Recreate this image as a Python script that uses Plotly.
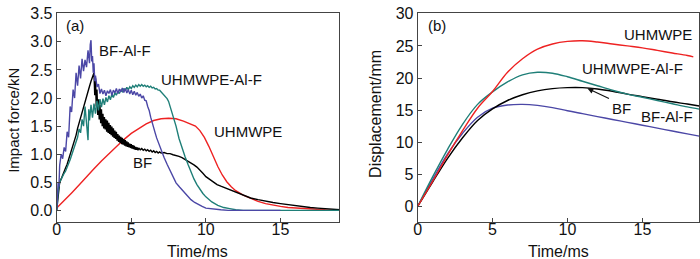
import plotly.graph_objects as go

# ---------------- Panel (a): impact force ----------------
bfal_t = [0.0, 0.05, 0.1, 0.15, 0.2, 0.3, 0.4, 0.5, 0.6, 0.7, 0.8, 0.9, 1.0, 1.1, 1.2, 1.3, 1.4, 1.5,
          1.6, 1.7, 1.8, 1.9, 2.0, 2.1, 2.2, 2.25, 2.3, 2.35, 2.4, 2.45, 2.5, 2.55, 2.6, 2.7, 2.8, 2.9,
          3.0, 3.1, 3.2, 3.3, 3.4, 3.5, 3.6, 3.7, 3.8, 3.9, 4.0, 4.1, 4.2, 4.3, 4.4, 4.5, 4.6, 4.7, 4.8,
          4.9, 5.0, 5.1, 5.2, 5.3, 5.4, 5.5, 5.6, 5.7, 5.8, 5.9, 6.0, 6.1, 6.2, 6.3, 6.4, 6.5, 6.6, 6.7,
          6.8, 6.9, 7.0, 7.2, 7.4, 7.6, 7.8, 8.0, 8.25, 8.5, 8.75, 9.0, 9.25, 9.5, 9.75, 10.0, 10.5,
          11.0, 11.5, 12.0, 15.0, 19.0]
bfal_f = [0.02, 0.35, 0.50, 0.42, 0.80, 1.00, 0.92, 1.12, 1.05, 1.40, 1.30, 1.85, 1.75, 2.15, 2.00,
          2.45, 2.22, 2.58, 2.35, 2.70, 2.48, 2.68, 2.55, 2.85, 2.62, 2.95, 3.03, 2.65, 2.75, 2.45, 2.62,
          2.30, 2.40, 2.20, 2.25, 2.08, 2.16, 2.07, 2.14, 2.04, 2.13, 2.08, 2.15, 2.05, 2.14, 2.09, 2.17,
          2.08, 2.16, 2.11, 2.18, 2.10, 2.17, 2.09, 2.15, 2.07, 2.14, 2.06, 2.12, 2.05, 2.10, 2.03, 2.07,
          2.00, 2.04, 1.96, 1.95, 1.85, 1.78, 1.66, 1.58, 1.48, 1.38, 1.29, 1.22, 1.16, 1.06, 0.94, 0.82,
          0.70, 0.60, 0.49, 0.41, 0.33, 0.25, 0.19, 0.14, 0.10, 0.07, 0.04, 0.02, 0.01, 0.0, 0.0, 0.0]

uhal_t = [0.0, 0.1, 0.2, 0.3, 0.4, 0.5, 0.6, 0.7, 0.8, 0.9, 1.0, 1.1, 1.2, 1.3, 1.4, 1.5, 1.6, 1.7, 1.8,
          1.9, 2.0, 2.1, 2.15, 2.2, 2.3, 2.4, 2.5, 2.6, 2.7, 2.8, 2.9, 3.0, 3.1, 3.2, 3.3, 3.4, 3.5, 3.6,
          3.7, 3.8, 3.9, 4.0, 4.1, 4.2, 4.3, 4.4, 4.5, 4.6, 4.7, 4.8, 4.9, 5.0, 5.1, 5.2, 5.3, 5.4, 5.5,
          5.6, 5.7, 5.8, 5.9, 6.0, 6.1, 6.2, 6.3, 6.4, 6.5, 6.6, 6.7, 6.8, 6.9, 7.0, 7.1, 7.2, 7.3, 7.4,
          7.5, 7.6, 7.7, 7.8, 7.9, 8.0, 8.2, 8.4, 8.6, 8.8, 9.0, 9.2, 9.4, 9.6, 9.8, 10.0, 10.4, 10.8,
          11.2, 11.6, 12.0, 12.5, 19.0]
uhal_f = [0.0, 0.35, 0.50, 0.56, 0.62, 0.66, 0.70, 0.76, 0.84, 0.90, 0.98, 1.06, 1.12, 1.22, 1.30, 1.45,
          1.38, 1.62, 1.50, 1.85, 1.55, 1.25, 1.80, 1.60, 1.88, 1.65, 1.90, 1.72, 1.95, 1.78, 1.98, 1.84,
          1.99, 1.88, 2.01, 1.93, 2.04, 1.97, 2.07, 2.01, 2.09, 2.05, 2.12, 2.08, 2.14, 2.11, 2.17, 2.13,
          2.19, 2.15, 2.20, 2.17, 2.22, 2.19, 2.23, 2.20, 2.24, 2.21, 2.24, 2.21, 2.23, 2.20, 2.22, 2.19,
          2.21, 2.18, 2.19, 2.16, 2.17, 2.14, 2.14, 2.11, 2.10, 2.07, 2.04, 1.99, 1.94, 1.86, 1.77, 1.68,
          1.59, 1.50, 1.28, 1.10, 0.96, 0.82, 0.68, 0.56, 0.46, 0.37, 0.30, 0.24, 0.15, 0.09, 0.05, 0.03,
          0.01, 0.0, 0.0]

bf_t = [0.0, 0.05, 0.1, 0.15, 0.2, 0.3, 0.4, 0.5, 0.6, 0.7, 0.8, 0.9, 1.0, 1.1, 1.2, 1.3, 1.4, 1.5, 1.6,
        1.7, 1.8, 1.9, 2.0, 2.1, 2.2, 2.3, 2.4, 2.45,
        2.50, 2.55, 2.60, 2.65, 2.70, 2.75, 2.80, 2.85, 2.90, 2.95, 3.00, 3.05, 3.10, 3.15, 3.20, 3.25,
        3.30, 3.35, 3.40, 3.45, 3.50, 3.55, 3.60, 3.65, 3.70, 3.75, 3.80, 3.85, 3.90, 3.95, 4.00, 4.05,
        4.10, 4.15, 4.20, 4.25, 4.30, 4.35, 4.40, 4.45, 4.50, 4.55, 4.60, 4.65, 4.70, 4.75, 4.80, 4.85,
        4.90, 4.95, 5.00, 5.05, 5.10, 5.15, 5.20, 5.25, 5.30, 5.35, 5.40, 5.45, 5.50,
        5.6, 5.7, 5.8, 5.9, 6.0, 6.1, 6.2, 6.3, 6.4, 6.5, 6.6, 6.7, 6.8, 6.9, 7.0, 7.2, 7.4, 7.6, 7.8,
        8.0, 8.2, 8.4, 8.6, 8.8, 9.0, 9.2, 9.4, 9.6, 9.8, 10.0, 10.25, 10.5, 10.75, 11.0, 11.5, 12.0,
        12.5, 13.0, 13.5, 14.0, 14.5, 15.0, 15.5, 16.0, 16.5, 17.0, 17.5, 18.0, 18.5, 19.0]
bf_f = [0.0, 0.15, 0.30, 0.42, 0.50, 0.56, 0.64, 0.70, 0.76, 0.82, 0.90, 0.98, 1.06, 1.14, 1.24, 1.34,
        1.46, 1.56, 1.66, 1.76, 1.86, 1.96, 2.05, 2.13, 2.21, 2.30, 2.38, 2.45,
        2.45, 2.05, 2.35, 1.85, 2.15, 1.70, 1.98, 1.62, 1.88, 1.55, 1.80, 1.50, 1.72, 1.46, 1.66, 1.44,
        1.62, 1.40, 1.60, 1.38, 1.56, 1.36, 1.52, 1.34, 1.49, 1.31, 1.46, 1.29, 1.42, 1.27, 1.40, 1.24,
        1.36, 1.22, 1.33, 1.20, 1.31, 1.18, 1.29, 1.17, 1.27, 1.15, 1.25, 1.14, 1.23, 1.13, 1.21, 1.12,
        1.19, 1.11, 1.18, 1.10, 1.16, 1.09, 1.15, 1.08, 1.13, 1.08, 1.12, 1.07, 1.11,
        1.08, 1.10, 1.07, 1.09, 1.06, 1.08, 1.05, 1.07, 1.04, 1.06, 1.03, 1.05, 1.02, 1.04, 1.02, 1.03,
        1.01, 1.01, 0.99, 0.98, 0.96, 0.94, 0.91, 0.88, 0.85, 0.81, 0.77, 0.72, 0.66, 0.60, 0.55, 0.50,
        0.46, 0.43, 0.38, 0.33, 0.28, 0.22, 0.19, 0.16, 0.14, 0.12, 0.10, 0.08, 0.06, 0.05, 0.04, 0.03,
        0.02, 0.01]

uh_t = [0.0, 0.5, 1.0, 1.5, 2.0, 2.5, 3.0, 3.5, 4.0, 4.5, 5.0, 5.5, 6.0, 6.5, 7.0, 7.5, 8.0, 8.5, 9.0,
        9.3, 9.6, 9.9, 10.2, 10.5, 10.8, 11.1, 11.4, 11.7, 12.0, 12.5, 13.0, 13.5, 14.0, 14.5, 15.0,
        15.5, 16.0, 16.5, 17.0, 18.0, 19.0]
uh_f = [0.04, 0.17, 0.31, 0.45, 0.60, 0.74, 0.88, 1.01, 1.14, 1.26, 1.37, 1.46, 1.54, 1.60, 1.63, 1.64,
        1.63, 1.59, 1.54, 1.50, 1.42, 1.30, 1.14, 0.95, 0.78, 0.63, 0.51, 0.42, 0.35, 0.27, 0.21, 0.16,
        0.12, 0.09, 0.07, 0.05, 0.04, 0.03, 0.02, 0.01, 0.0]

# ---------------- Panel (b): displacement ----------------
uh_dt = [0, 1, 2, 3, 4, 5, 6, 7, 8, 9, 10, 11, 12, 13, 14, 15, 16, 17, 18, 18.4]
uh_d = [0, 3.9, 8.0, 11.8, 15.3, 17.9, 20.9, 23.0, 24.5, 25.3, 25.7, 25.8, 25.6, 25.3, 25.0, 24.7,
        24.3, 23.9, 23.5, 23.3]
uhal_dt = [0, 1, 2, 3, 4, 5, 6, 7, 8, 9, 10, 11, 12, 13, 14, 15, 16, 17, 18, 18.8]
uhal_d = [0, 4.6, 8.9, 12.8, 15.9, 17.85, 19.4, 20.5, 20.9, 20.75, 20.2, 19.5, 18.8, 18.1, 17.5, 17.0,
          16.5, 16.0, 15.5, 15.15]
bf_dt = [0, 1, 2, 3, 4, 5, 6, 7, 8, 9, 10, 11, 12, 13, 14, 15, 16, 17, 18, 18.8]
bf_d = [0, 3.8, 7.5, 10.7, 13.4, 15.2, 16.5, 17.4, 18.0, 18.35, 18.5, 18.5, 18.3, 17.95, 17.5, 17.1,
        16.7, 16.3, 15.95, 15.65]
bfal_dt = [0, 1, 2, 3, 4, 5, 6, 7, 8, 9, 10, 11, 12, 13, 14, 15, 16, 17, 18, 18.8]
bfal_d = [0, 4.2, 8.2, 11.4, 13.9, 15.3, 15.8, 15.9, 15.75, 15.4, 14.9, 14.45, 14.0, 13.55, 13.1,
          12.65, 12.2, 11.75, 11.3, 10.95]

x_ticks = [0, 5, 10, 15]
force_ticks = [0.0, 0.5, 1.0, 1.5, 2.0, 2.5, 3.0, 3.5]
disp_ticks = [0, 5, 10, 15, 20, 25, 30]

RED = "#ee2222"
BLUE = "#4b47a6"
TEAL = "#1f7f78"
BLACK = "#000000"
FONT = "Liberation Sans, Arial, sans-serif"
W, H = 700, 259


def px(x):
    return x / W


def py(y):
    return 1 - y / H


fig = go.Figure()
lw = 1.4
fig.add_trace(go.Scatter(x=uh_t, y=uh_f, mode="lines", line=dict(color=RED, width=lw), xaxis="x", yaxis="y"))
fig.add_trace(go.Scatter(x=bf_t, y=bf_f, mode="lines", line=dict(color=BLACK, width=lw), xaxis="x", yaxis="y"))
fig.add_trace(go.Scatter(x=uhal_t, y=uhal_f, mode="lines", line=dict(color=TEAL, width=lw), xaxis="x", yaxis="y"))
fig.add_trace(go.Scatter(x=bfal_t, y=bfal_f, mode="lines", line=dict(color=BLUE, width=lw), xaxis="x", yaxis="y"))

fig.add_trace(go.Scatter(x=bfal_dt, y=bfal_d, mode="lines", line=dict(color=BLUE, width=lw, shape="spline"), xaxis="x2", yaxis="y2"))
fig.add_trace(go.Scatter(x=bf_dt, y=bf_d, mode="lines", line=dict(color=BLACK, width=lw, shape="spline"), xaxis="x2", yaxis="y2"))
fig.add_trace(go.Scatter(x=uhal_dt, y=uhal_d, mode="lines", line=dict(color=TEAL, width=lw, shape="spline"), xaxis="x2", yaxis="y2"))
fig.add_trace(go.Scatter(x=uh_dt, y=uh_d, mode="lines", line=dict(color=RED, width=lw, shape="spline"), xaxis="x2", yaxis="y2"))

axis_common = dict(showline=True, mirror=True, linecolor="#444444", linewidth=1, ticks="inside",
                   ticklen=4, tickcolor="#444444", showgrid=False, zeroline=False,
                   ticklabeloverflow="allow",
                   tickfont=dict(family=FONT, size=16, color="#111111"))

ydom = [py(221), py(6)]
fig.update_layout(
    width=W, height=H, margin=dict(l=0, r=0, t=0, b=0),
    paper_bgcolor="white", plot_bgcolor="white", showlegend=False,
    font=dict(family=FONT, color="#111111"),
    xaxis=dict(domain=[px(53), px(337)], range=[0, 18.93], tickvals=x_ticks, anchor="y",
               ticklabelstandoff=-7, **axis_common),
    yaxis=dict(domain=ydom, range=[-0.208, 3.517], tickvals=force_ticks, tickformat=".1f", anchor="x", **axis_common),
    xaxis2=dict(domain=[px(416), px(699)], range=[0, 18.78], tickvals=x_ticks, anchor="y2",
                ticklabelstandoff=-7, **axis_common),
    yaxis2=dict(domain=ydom, range=[-2.42, 30.15], tickvals=disp_ticks, anchor="x2", **axis_common),
)


def label(text, x, y, size=15, angle=0):
    fig.add_annotation(text=text, x=px(x), y=py(y), xref="paper", yref="paper", showarrow=False,
                       textangle=angle, font=dict(family=FONT, size=size, color="#111111"),
                       xanchor="center", yanchor="middle")


# axis titles
label("Time/ms", 195, 251, 16)
label("Time/ms", 558, 251, 16)
label("Impact force/kN", 10, 116, 15, -90)
label("Displacement/mm", 373, 110, 16, -90)

# panel labels
label("(a)", 71, 19, 15)
label("(b)", 435, 19, 15)

# curve labels, panel a
label("BF-Al-F", 122, 45)
label("UHMWPE-Al-F", 209, 75)
label("UHMWPE", 245, 128)
label("BF", 139, 160)

# curve labels, panel b
label("UHMWPE", 658, 28)
label("UHMWPE-Al-F", 632, 63)
label("BF", 621, 104)
label("BF-Al-F", 667, 113)

fig.add_annotation(x=11.33, y=18.4, ax=12.87, ay=16.7, xref="x2", yref="y2", axref="x2", ayref="y2",
                   text="", showarrow=True, arrowhead=2, arrowsize=1, arrowwidth=1.2, arrowcolor="#111111")

fig.write_html("out.html", config={"displayModeBar": False},
               post_script="document.body.style.margin='0';document.body.style.padding='0';document.body.style.overflow='hidden';")
